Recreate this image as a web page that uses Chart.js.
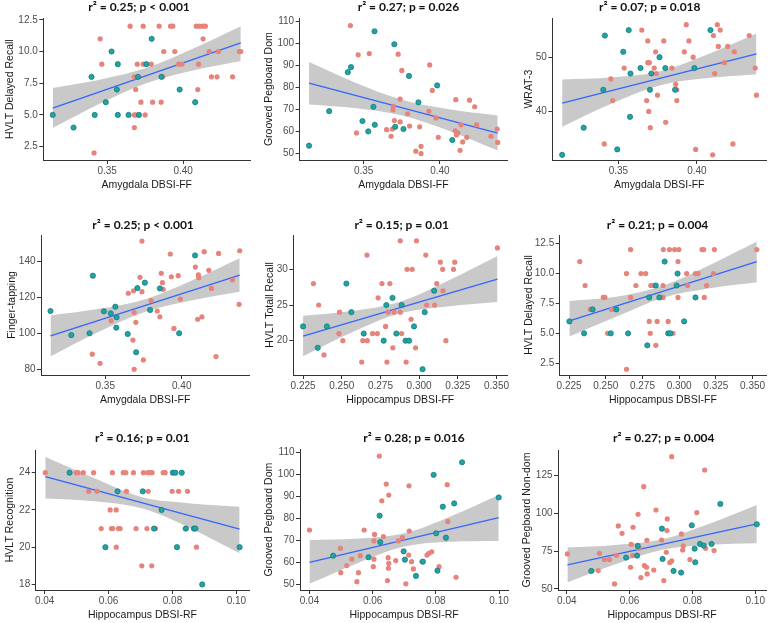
<!DOCTYPE html>
<html>
<head>
<meta charset="utf-8">
<script src="https://cdn.jsdelivr.net/npm/chart.js@4.4.1/dist/chart.umd.min.js"></script>
<style>
  html, body { margin: 0; padding: 0; background: #ffffff; }
  #wrap { position: relative; width: 777px; height: 623px; overflow: hidden; background: #ffffff; }
  #wrap canvas { position: absolute; }
</style>
</head>
<body>
<div id="wrap"></div>
<script>
// ---------- Panel titles and axis labels ----------
const panelTitles = ["r\u00B2 = 0.25; p < 0.001", "r\u00B2 = 0.27; p = 0.026", "r\u00B2 = 0.07; p = 0.018",
                     "r\u00B2 = 0.25; p < 0.001", "r\u00B2 = 0.15; p = 0.01", "r\u00B2 = 0.21; p = 0.004",
                     "r\u00B2 = 0.16; p = 0.01", "r\u00B2 = 0.28; p = 0.016", "r\u00B2 = 0.27; p = 0.004"];
const xTitles = ["Amygdala DBSI-FF", "Amygdala DBSI-FF", "Amygdala DBSI-FF",
                 "Amygdala DBSI-FF", "Hippocampus DBSI-FF", "Hippocampus DBSI-FF",
                 "Hippocampus DBSI-RF", "Hippocampus DBSI-RF", "Hippocampus DBSI-RF"];
const yTitles = ["HVLT Delayed Recall", "Grooved Pegboard Dom", "WRAT-3",
                 "Finger-tapping", "HVLT Totall Recall", "HVLT Delayed Recall",
                 "HVLT Recognition", "Grooved Pegboard Dom", "Grooved Pegboard Non-dom"];

// ---------- Tick labels ----------
const amyXTicks = [0.35, 0.40];
const hipFFXTicks = [0.225, 0.250, 0.275, 0.300, 0.325, 0.350];
const hipRFXTicks = [0.04, 0.06, 0.08, 0.10];
const p1YTicks = [2.5, 5.0, 7.5, 10.0, 12.5];
const p2YTicks = [50, 60, 70, 80, 90, 100, 110];
const p3YTicks = [40, 50];
const p4YTicks = [80, 100, 120, 140];
const p5YTicks = [20, 25, 30];
const p6YTicks = [2.5, 5.0, 7.5, 10.0, 12.5];
const p7YTicks = [18, 20, 22, 24];
const p8YTicks = [50, 60, 70, 80, 90, 100, 110];
const p9YTicks = [50, 75, 100, 125];

// ---------- Panel 1: Amygdala DBSI-FF vs HVLT Delayed Recall ----------
const p1Red = [[0.3651,12],[0.3737,12],[0.3842,12],[0.3917,12],[0.3932,12],[0.4086,12],[0.4107,12],[0.4129,12],[0.4146,12],
  [0.3454,11],[0.4131,11],[0.3872,10],[0.3945,10],[0.4171,10],[0.4231,10],[0.4370,10],[0.4379,10],
  [0.3465,9],[0.3698,9],[0.3737,9],[0.3790,9],[0.3970,9],[0.3992,9],[0.4101,9],
  [0.3679,8],[0.3865,8],[0.4186,8],[0.4223,8],[0.4325,8],[0.3688,7],[0.4096,7],
  [0.3722,6],[0.3799,6],[0.3855,6],[0.3679,5],[0.3688,5],[0.3750,5],[0.3679,4],[0.3414,2]];
const p1Teal = [[0.3142,5],[0.3279,4],[0.3397,8],[0.3418,5],[0.3491,6],[0.3529,10],[0.3564,7],[0.3570,9],[0.3570,5],
  [0.3641,5],[0.3703,8],[0.3709,5],[0.3758,9],[0.3793,11],[0.3857,8],[0.3977,7],[0.4079,6]];
const p1LineX = [0.3142, 0.4379];
const p1LineY = [5.54, 10.68];
const p1BandX = [0.3142, 0.3451, 0.3761, 0.4070, 0.4379];
const p1BandLo = [3.96, 5.87, 7.51, 8.52, 9.25];
const p1BandHi = [7.12, 7.77, 8.71, 10.26, 12.00];

// ---------- Panel 2: Amygdala DBSI-FF vs Grooved Pegboard Dom ----------
const p2Red = [[0.3413,108.2],[0.3453,59.4],[0.3464,94.9],[0.3537,95.5],[0.3650,60.9],[0.3680,57.9],[0.3688,61.2],
  [0.3692,69.9],[0.3694,71.5],[0.3701,65.0],[0.3726,95.2],[0.3739,64.4],[0.3739,74.8],[0.3750,87.8],[0.3788,68.1],
  [0.3801,62.5],[0.3867,62.2],[0.3842,51.1],[0.3876,53.3],[0.3876,50.0],[0.3927,69.2],[0.3933,90.3],[0.3950,78.7],
  [0.3974,66.2],[0.3989,57.4],[0.4100,60.4],[0.4104,74.5],[0.4108,58.5],[0.4117,59.4],[0.4132,51.5],[0.4138,63.1],
  [0.4149,55.3],[0.4176,57.4],[0.4194,74.3],[0.4228,71.3],[0.4240,63.1],[0.4334,57.9],[0.4375,61.2],[0.4379,55.1]];
const p2Teal = [[0.3142,53.6],[0.3274,69.3],[0.3396,87.0],[0.3417,89.3],[0.3492,64.8],[0.3530,60.1],[0.3564,71.3],
  [0.3571,105.6],[0.3573,63.1],[0.3701,99.7],[0.3707,62.2],[0.3761,61.2],[0.3797,85.3],[0.3859,73.3],[0.3982,81.0],[0.4081,56.2]];
const p2LineX = [0.3142, 0.4379];
const p2LineY = [82.0, 59.35];
const p2BandX = [0.3142, 0.3451, 0.3761, 0.4070, 0.4379];
const p2BandLo = [72.35, 70.65, 67.2, 60.06, 51.45];
const p2BandHi = [91.65, 82.05, 74.2, 70.04, 67.35];

// ---------- Panel 3: Amygdala DBSI-FF vs WRAT-3 ----------
const p3Red = [[0.3410,34],[0.3452,46],[0.3464,42],[0.3537,48],[0.3649,55],[0.3680,42],[0.3687,53],[0.3687,49],
  [0.3697,49],[0.3693,40],[0.3703,37],[0.3737,51],[0.3728,48],[0.3741,47],[0.3749,43],[0.3789,53],[0.3801,38],
  [0.3841,48],[0.3865,45],[0.3872,44],[0.3872,42],[0.3920,51],[0.3932,56],[0.3949,53],[0.3976,50],[0.3992,33],
  [0.4100,32],[0.4105,54],[0.4113,47],[0.4130,56],[0.4136,52],[0.4148,55],[0.4175,49],[0.4196,52],[0.4229,34],
  [0.4238,51],[0.4333,54],[0.4371,48],[0.4379,43]];
const p3Teal = [[0.3142,32],[0.3279,37],[0.3404,44],[0.3414,54],[0.3493,33],[0.3531,51],[0.3566,55],[0.3574,39],
  [0.3577,47],[0.3641,48],[0.3701,44],[0.3710,47],[0.3762,50],[0.3799,48],[0.3861,44],[0.3984,48],[0.4086,55]];
const p3LineX = [0.3142, 0.4379];
const p3LineY = [41.53, 50.61];
const p3BandX = [0.3142, 0.3451, 0.3761, 0.4070, 0.4379];
const p3BandLo = [37.17, 41.35, 44.77, 46.15, 46.86];
const p3BandHi = [45.89, 46.25, 47.37, 50.53, 54.36];

// ---------- Panel 4: Amygdala DBSI-FF vs Finger-tapping ----------
const p4Red = [[0.3415,88.4],[0.3466,83.3],[0.3538,107.1],[0.3651,122.4],[0.3681,96.3],[0.3685,123.8],[0.3689,111.6],
  [0.3689,80.0],[0.3700,106.2],[0.3727,131.3],[0.3740,123.3],[0.3740,151.5],[0.3749,85.2],[0.3800,118.3],[0.3840,112.5],
  [0.3857,109.3],[0.3866,133.5],[0.3874,128.3],[0.3879,124.6],[0.3925,144.3],[0.3932,131.6],[0.3949,102.8],[0.3977,132.2],
  [0.3991,119.2],[0.4089,137.0],[0.4104,107.9],[0.4109,132.6],[0.4111,131.1],[0.4132,109.3],[0.4147,145.6],[0.4177,135.2],
  [0.4194,125.1],[0.4224,87.1],[0.4241,144.6],[0.4332,129.8],[0.4375,116.2],[0.4379,146.1]];
const p4Teal = [[0.3142,112.5],[0.3278,99.1],[0.3397,100.1],[0.3419,132.2],[0.3491,112.3],[0.3536,111.2],[0.3566,114.9],
  [0.3574,109.0],[0.3572,103.2],[0.3647,99.7],[0.3702,89.5],[0.3710,125.3],[0.3759,128.3],[0.3793,113.1],[0.3857,125.1],
  [0.3983,100.1],[0.4087,143.5]];
const p4LineX = [0.3142, 0.4379];
const p4LineY = [98.57, 132.57];
const p4BandX = [0.3142, 0.3451, 0.3761, 0.4070, 0.4379];
const p4BandLo = [87.12, 100.59, 112.07, 118.52, 123.27];
const p4BandHi = [110.02, 113.55, 119.07, 129.62, 141.87];

// ---------- Panel 5: Hippocampus DBSI-FF vs HVLT Total Recall ----------
const p5Red = [[0.2317,28],[0.2351,25],[0.2385,18],[0.2486,24],[0.2482,21],[0.2507,20],[0.2629,17],[0.2636,20],
  [0.2663,32],[0.2665,20],[0.2699,21],[0.2730,21],[0.2735,26],[0.2760,28],[0.2783,22],[0.2792,17],[0.2798,24],
  [0.2811,28],[0.2830,19],[0.2838,24],[0.2878,34],[0.2878,24],[0.2887,21],[0.2916,17],[0.2922,30],[0.2948,23],
  [0.2955,30],[0.2977,19],[0.2983,34],[0.3043,32],[0.3049,25],[0.3100,25],[0.3114,28],[0.3137,31],[0.3152,30],
  [0.3154,27],[0.3173,20],[0.3222,30],[0.3230,31],[0.3506,33]];
const p5Teal = [[0.2250,22],[0.2345,19],[0.2404,22],[0.2530,28],[0.2562,24],[0.2642,21],[0.2771,20],[0.2788,25],
  [0.2828,26],[0.2853,21],[0.2887,25],[0.2912,20],[0.2935,20],[0.2967,22],[0.3022,16],[0.3036,24],[0.3097,27]];
const p5LineX = [0.2250, 0.3506];
const p5LineY = [20.65, 28.64];
const p5BandX = [0.2250, 0.2564, 0.2878, 0.3192, 0.3506];
const p5BandLo = [17.82, 21.15, 23.84, 24.84, 25.42];
const p5BandHi = [23.48, 24.15, 25.46, 28.46, 31.86];

// ---------- Panel 6: Hippocampus DBSI-FF vs HVLT Delayed Recall ----------
const p6Red = [[0.2323,11],[0.2359,9],[0.2394,7],[0.2483,8],[0.2494,8],[0.2539,7],[0.2512,5],[0.2641,10],[0.2641,2],
  [0.2669,8],[0.2669,12],[0.2705,9],[0.2740,10],[0.2772,10],[0.2796,6],[0.2803,5],[0.2807,9],[0.2823,9],[0.2841,4],
  [0.2850,6],[0.2890,8],[0.2892,12],[0.2890,9],[0.2925,6],[0.2934,12],[0.2958,5],[0.2969,12],[0.2992,8],[0.2998,12],
  [0.2992,11],[0.3058,9],[0.3051,10],[0.3111,10],[0.3129,10],[0.3156,12],[0.3167,12],[0.3171,8],[0.3187,9],
  [0.3234,10],[0.3240,12],[0.3529,12]];
const p6Teal = [[0.2252,6],[0.2352,5],[0.2410,7],[0.2534,5],[0.2572,7],[0.2652,5],[0.2783,4],[0.2796,8],[0.2841,9],
  [0.2865,8],[0.2901,11],[0.2925,5],[0.2939,5],[0.2983,9],[0.2989,10],[0.3034,6],[0.3111,8]];
const p6LineX = [0.2252, 0.3529];
const p6LineY = [6.05, 11.0];
const p6BandX = [0.2252, 0.2571, 0.2890, 0.3210, 0.3529];
const p6BandLo = [4.73, 6.38, 7.98, 8.76, 9.27];
const p6BandHi = [7.71, 8.05, 8.98, 10.72, 12.67];

// ---------- Panel 7: Hippocampus DBSI-RF vs HVLT Recognition ----------
const p7Red = [[0.0402,24],[0.0499,24],[0.0505,24],[0.0521,24],[0.0553,24],[0.0612,24],[0.0646,24],[0.0654,24],
  [0.0678,24],[0.0709,24],[0.0723,24],[0.0729,24],[0.0736,24],[0.0771,24],[0.0777,24],
  [0.0538,23],[0.0564,23],[0.0656,23],[0.0724,23],[0.0799,23],[0.0819,23],[0.0847,23],
  [0.0605,22],[0.0624,22],
  [0.0577,21],[0.0609,21],[0.0613,21],[0.0631,21],[0.0636,21],[0.0686,21],[0.0720,21],[0.0747,21],[0.0840,21],
  [0.0624,20],[0.0875,20],[0.0704,19],[0.0735,19]];
const p7Teal = [[0.0478,24],[0.0628,23],[0.0707,23],[0.0766,22],[0.0742,21],[0.0590,20],[0.0801,24],[0.0809,24],
  [0.0829,24],[0.0842,21],[0.0867,21],[0.0872,21],[0.0814,20],[0.0893,18],[0.1010,20]];
const p7LineX = [0.0402, 0.1010];
const p7LineY = [23.79, 20.97];
const p7BandX = [0.0402, 0.0554, 0.0706, 0.0858, 0.1010];
const p7BandLo = [22.62, 22.47, 22.08, 21.01, 19.67];
const p7BandHi = [24.86, 23.71, 22.68, 22.35, 22.17];

// ---------- Panel 8: Hippocampus DBSI-RF vs Grooved Pegboard Dom ----------
const p8Red = [[0.0400,74.7],[0.0498,66.4],[0.0499,55.3],[0.0518,58.5],[0.0534,61.4],[0.0550,51.2],[0.0555,55.3],
  [0.0561,63.0],[0.0573,74.7],[0.0604,69.7],[0.0604,61.4],[0.0606,72.7],[0.0602,58.0],[0.0621,108.3],[0.0629,88.0],
  [0.0634,71.7],[0.0643,95.6],[0.0647,51.7],[0.0649,62.1],[0.0651,90.6],[0.0650,57.3],[0.0651,59.5],[0.0673,60.8],
  [0.0681,69.7],[0.0694,71.2],[0.0705,50.2],[0.0714,63.3],[0.0715,94.8],[0.0716,74.2],[0.0723,60.3],[0.0729,57.0],
  [0.0756,60.3],[0.0772,63.3],[0.0778,64.1],[0.0787,64.8],[0.0810,58.0],[0.0836,95.3],[0.0838,78.6],[0.0864,53.2]];
const p8Teal = [[0.0475,63.0],[0.0587,62.3],[0.0622,81.2],[0.0624,69.2],[0.0698,65.0],[0.0702,61.2],[0.0737,53.8],
  [0.0759,60.3],[0.0793,99.8],[0.0801,73.2],[0.0805,56.2],[0.0822,85.3],[0.0832,71.2],[0.0858,86.8],[0.0883,105.5],[0.0999,89.5]];
const p8LineX = [0.0400, 0.0999];
const p8LineY = [60.0, 80.3];
const p8BandX = [0.0400, 0.0550, 0.0700, 0.0850, 0.0999];
const p8BandLo = [50.2, 59.45, 67.17, 69.4, 69.7];
const p8BandHi = [70.2, 70.71, 73.17, 81.1, 90.6];

// ---------- Panel 9: Hippocampus DBSI-RF vs Grooved Pegboard Non-dom ----------
const p9Red = [[0.0402,73.1],[0.0500,62.1],[0.0504,73.5],[0.0520,69.4],[0.0536,69.4],[0.0552,53.3],[0.0558,72.2],
  [0.0564,91.6],[0.0576,86.7],[0.0603,64.3],[0.0605,79.5],[0.0610,72.0],[0.0611,90.7],[0.0627,99.3],[0.0631,76.8],
  [0.0636,57.5],[0.0645,117.5],[0.0647,65.4],[0.0654,64.3],[0.0655,82.1],[0.0656,59.9],[0.0677,62.5],[0.0684,102.1],
  [0.0702,82.3],[0.0709,55.5],[0.0719,88.5],[0.0720,96.2],[0.0717,74.2],[0.0728,67.4],[0.0734,137.3],[0.0734,68.5],
  [0.0765,86.3],[0.0771,78.4],[0.0769,75.7],[0.0792,69.4],[0.0814,100.4],[0.0839,128.5],[0.0842,76.8],[0.0869,75.3]];
const p9Teal = [[0.0478,61.9],[0.0589,70.7],[0.0624,72.0],[0.0626,78.4],[0.0703,89.8],[0.0705,69.8],[0.0740,61.9],
  [0.0764,60.8],[0.0798,92.0],[0.0807,76.6],[0.0809,67.6],[0.0824,79.7],[0.0836,78.6],[0.0861,79.7],[0.0889,106.1],[0.1005,92.7]];
const p9LineX = [0.0402, 0.1005];
const p9LineY = [65.84, 92.89];
const p9BandX = [0.0402, 0.0553, 0.0704, 0.0854, 0.1005];
const p9BandLo = [54.4, 66.11, 75.84, 79.09, 80.1];
const p9BandHi = [77.3, 79.07, 82.84, 93.09, 105.4];

// ---------- Styling ----------
const RED = '#E6847C';
const TEAL = '#22A3A3';
const TEAL_EDGE = '#137C7D';
const BAND = '#C9C9C9';
const LINE = '#3366FF';
const AXIS = '#333333';
const TICK_TXT = '#4D4D4D';
const TITLE_FONT = { family: 'Lato', weight: 'bold', size: 12 };
const TICK_FONT = { family: 'Liberation Sans', size: 10 };
const AXTITLE_FONT = { family: 'Liberation Sans', size: 10.5 };
const X_AXIS_H = 31;

// layout of each panel (page pixels): canvas origin, plot rect, title centre, y-title centre
const layouts = [
  { cl: 0,   ct: 0,   pl: 43.3,  pt: 18.3,  pr: 255.0, pb: 160.3, tcx: 141.5, tcy: 7.3,   ytx: 10,    xr: [0.3080, 0.4441], yr: [1.44, 12.62] },
  { cl: 260, ct: 0,   pl: 299.6, pt: 18.3,  pr: 512.3, pb: 160.3, tcx: 411,   tcy: 7.3,   ytx: 269,   xr: [0.3080, 0.4441], yr: [47.1, 111.5] },
  { cl: 517, ct: 0,   pl: 552.4, pt: 18.3,  pr: 770.6, pb: 160.3, tcx: 652,   tcy: 7.3,   ytx: 528.7, xr: [0.3080, 0.4441], yr: [31.04, 57.18] },
  { cl: 0,   ct: 200, pl: 41.0,  pt: 235.0, pr: 254.0, pb: 375.0, tcx: 145.5, tcy: 225,   ytx: 11.7,  xr: [0.3080, 0.4441], yr: [76.8, 154.9] },
  { cl: 260, ct: 200, pl: 293.3, pt: 235.0, pr: 511.9, pb: 375.0, tcx: 404,   tcy: 225,   ytx: 270,   xr: [0.2187, 0.3569], yr: [15.19, 34.81] },
  { cl: 517, ct: 200, pl: 559.7, pt: 235.0, pr: 771.0, pb: 375.0, tcx: 660,   tcy: 225,   ytx: 528.7, xr: [0.2186, 0.3593], yr: [1.52, 13.22] },
  { cl: 0,   ct: 410, pl: 35.7,  pt: 450.0, pr: 253.5, pb: 590.0, tcx: 144.5, tcy: 438.3, ytx: 10,    xr: [0.0372, 0.1040], yr: [17.7, 25.22] },
  { cl: 260, ct: 410, pl: 300.0, pt: 449.3, pr: 513.4, pb: 590.0, tcx: 416.5, tcy: 438.3, ytx: 269,   xr: [0.0370, 0.1029], yr: [47.4, 111.4] },
  { cl: 517, ct: 410, pl: 558.0, pt: 450.0, pr: 770.6, pb: 590.0, tcx: 666,   tcy: 438.3, ytx: 527,   xr: [0.0372, 0.1035], yr: [49.3, 141.7] }
];

const panelData = [
  { red: p1Red, teal: p1Teal, lx: p1LineX, ly: p1LineY, bx: p1BandX, blo: p1BandLo, bhi: p1BandHi, xt: amyXTicks, yt: p1YTicks, xd: 2, yd: 1 },
  { red: p2Red, teal: p2Teal, lx: p2LineX, ly: p2LineY, bx: p2BandX, blo: p2BandLo, bhi: p2BandHi, xt: amyXTicks, yt: p2YTicks, xd: 2, yd: 0 },
  { red: p3Red, teal: p3Teal, lx: p3LineX, ly: p3LineY, bx: p3BandX, blo: p3BandLo, bhi: p3BandHi, xt: amyXTicks, yt: p3YTicks, xd: 2, yd: 0 },
  { red: p4Red, teal: p4Teal, lx: p4LineX, ly: p4LineY, bx: p4BandX, blo: p4BandLo, bhi: p4BandHi, xt: amyXTicks, yt: p4YTicks, xd: 2, yd: 0 },
  { red: p5Red, teal: p5Teal, lx: p5LineX, ly: p5LineY, bx: p5BandX, blo: p5BandLo, bhi: p5BandHi, xt: hipFFXTicks, yt: p5YTicks, xd: 3, yd: 0 },
  { red: p6Red, teal: p6Teal, lx: p6LineX, ly: p6LineY, bx: p6BandX, blo: p6BandLo, bhi: p6BandHi, xt: hipFFXTicks, yt: p6YTicks, xd: 3, yd: 1 },
  { red: p7Red, teal: p7Teal, lx: p7LineX, ly: p7LineY, bx: p7BandX, blo: p7BandLo, bhi: p7BandHi, xt: hipRFXTicks, yt: p7YTicks, xd: 2, yd: 0 },
  { red: p8Red, teal: p8Teal, lx: p8LineX, ly: p8LineY, bx: p8BandX, blo: p8BandLo, bhi: p8BandHi, xt: hipRFXTicks, yt: p8YTicks, xd: 2, yd: 0 },
  { red: p9Red, teal: p9Teal, lx: p9LineX, ly: p9LineY, bx: p9BandX, blo: p9BandLo, bhi: p9BandHi, xt: hipRFXTicks, yt: p9YTicks, xd: 2, yd: 0 }
];

const toPts = arr => arr.map(p => ({ x: p[0], y: p[1] }));
const zipPts = (xs, ys) => xs.map((x, i) => ({ x: x, y: ys[i] }));

// shifts the title block horizontally so it sits where the reference places it
const titleShift = {
  id: 'titleShift',
  afterLayout(chart, args, opts) {
    const tb = chart.titleBlock;
    if (tb && opts && opts.dx) { tb.left += opts.dx; tb.right += opts.dx; }
  }
};

const wrap = document.getElementById('wrap');

panelData.forEach((d, i) => {
  const L = layouts[i];
  const W = Math.round(L.pr - L.cl);
  const H = Math.round(L.pb - L.ct + X_AXIS_H);
  const cv = document.createElement('canvas');
  cv.width = W; cv.height = H;
  cv.style.left = L.cl + 'px'; cv.style.top = L.ct + 'px';
  cv.style.width = W + 'px'; cv.style.height = H + 'px';
  wrap.appendChild(cv);

  const titleLH = TITLE_FONT.size * 1.2;
  const tPadTop = Math.max(0, L.tcy - L.ct - titleLH / 2);
  const tPadBottom = (L.pt - L.ct) - titleLH - tPadTop;
  const yLH = AXTITLE_FONT.size * 1.2;
  const yTitlePad = L.ytx - L.cl - yLH / 2;
  const titleDx = L.tcx - (L.pl + L.pr) / 2;

  new Chart(cv, {
    type: 'scatter',
    plugins: [titleShift],
    data: {
      datasets: [
        { type: 'line', data: zipPts(d.bx, d.bhi), borderWidth: 0, pointRadius: 0, fill: '+1',
          backgroundColor: BAND, borderColor: 'rgba(0,0,0,0)', cubicInterpolationMode: 'monotone', order: 3 },
        { type: 'line', data: zipPts(d.bx, d.blo), borderWidth: 0, pointRadius: 0, fill: false,
          borderColor: 'rgba(0,0,0,0)', cubicInterpolationMode: 'monotone', order: 3 },
        { type: 'line', data: zipPts(d.lx, d.ly), borderWidth: 1.3, pointRadius: 0, fill: false,
          borderColor: LINE, order: 2 },
        { type: 'scatter', data: toPts(d.red), pointRadius: 2.6, backgroundColor: RED, borderWidth: 0, order: 1 },
        { type: 'scatter', data: toPts(d.teal), pointRadius: 2.6, backgroundColor: TEAL, borderColor: TEAL_EDGE,
          borderWidth: 0.8, order: 0 }
      ]
    },
    options: {
      responsive: false,
      animation: false,
      events: [],
      layout: { padding: 0 },
      plugins: {
        legend: { display: false },
        tooltip: { enabled: false },
        titleShift: { dx: titleDx },
        title: {
          display: true, text: panelTitles[i], fullSize: false,
          font: TITLE_FONT, color: '#111111',
          padding: { top: tPadTop, bottom: tPadBottom }
        }
      },
      scales: {
        x: {
          type: 'linear', position: 'bottom', min: L.xr[0], max: L.xr[1],
          afterFit: s => { s.height = X_AXIS_H; },
          afterBuildTicks: s => { s.ticks = d.xt.map(v => ({ value: v })); },
          ticks: { font: TICK_FONT, color: TICK_TXT, padding: 1, autoSkip: false, maxRotation: 0,
                   callback: v => Number(v).toFixed(d.xd) },
          grid: { display: true, drawOnChartArea: false, drawTicks: true, tickLength: 4, color: AXIS },
          border: { display: true, color: AXIS, width: 1 },
          title: { display: true, text: xTitles[i], font: AXTITLE_FONT, color: '#1A1A1A', padding: { top: 0, bottom: 0 } }
        },
        y: {
          type: 'linear', position: 'left', min: L.yr[0], max: L.yr[1],
          afterFit: s => { s.width = L.pl - L.cl; },
          afterBuildTicks: s => { s.ticks = d.yt.map(v => ({ value: v })); },
          ticks: { font: TICK_FONT, color: TICK_TXT, padding: 1.5, autoSkip: false,
                   callback: v => Number(v).toFixed(d.yd) },
          grid: { display: true, drawOnChartArea: false, drawTicks: true, tickLength: 4, color: AXIS },
          border: { display: true, color: AXIS, width: 1 },
          title: { display: true, text: yTitles[i], font: AXTITLE_FONT, color: '#1A1A1A', padding: { top: yTitlePad, bottom: 0 } }
        }
      }
    }
  });
});
</script>
</body>
</html>
